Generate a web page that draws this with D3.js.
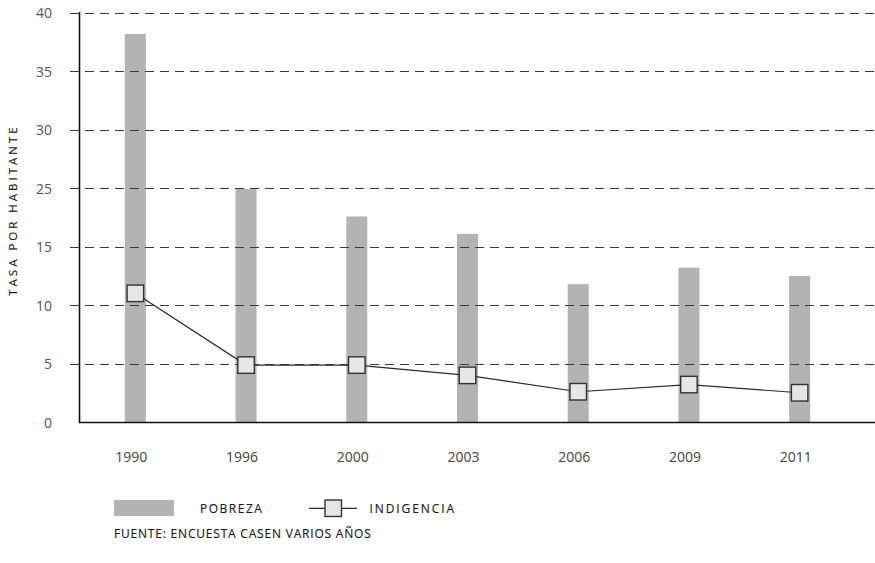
<!DOCTYPE html>
<html>
<head>
<meta charset="utf-8">
<script src="https://cdn.jsdelivr.net/npm/d3@7"></script>
<style>
  html, body { margin: 0; padding: 0; background: #fff; }
  svg { display: block; }
  text { font-family: "Open Sans", "DejaVu Sans", sans-serif; }
  .label { fill: #1a1a1a; stroke: #1a1a1a; stroke-width: 0.15px; }
</style>
</head>
<body>
<svg id="chart" width="875" height="563"></svg>
<script>
// Años de la encuesta CASEN
const years = ["1990", "1996", "2000", "2003", "2006", "2009", "2011"];
// Tasa de pobreza (barras)
const pobreza = [37.9, 22.8, 20.1, 18.4, 13.5, 15.1, 14.3];
// Tasa de indigencia (línea con marcadores)
const indigencia = [12.6, 5.6, 5.6, 4.6, 3.0, 3.7, 2.9];
// Etiquetas del eje vertical, repartidas en ocho líneas de guía
const yTickLabels = ["0", "5", "10", "15", "25", "30", "35", "40"];

const svg = d3.select("#chart");

const x = d3.scaleBand()
  .domain(years)
  .range([80, 855])
  .paddingInner(0.81)
  .paddingOuter(0.405);

const y = d3.scaleLinear()
  .domain([0, 40])
  .range([422.5, 12.5]);

const cx = d => x(d) + x.bandwidth() / 2;

// Barras de pobreza
svg.append("g")
  .selectAll("rect")
  .data(years)
  .join("rect")
  .attr("x", d => x(d))
  .attr("width", x.bandwidth())
  .attr("y", (d, i) => y(pobreza[i]))
  .attr("height", (d, i) => y(0) - y(pobreza[i]))
  .attr("fill", "#b3b3b3");

// Líneas de guía discontinuas y etiquetas del eje Y
const tickPos = yTickLabels.map((_, i) => i * 40 / (yTickLabels.length - 1));
const yAxis = d3.axisLeft(y)
  .tickValues(tickPos)
  .tickFormat((d, i) => yTickLabels[i])
  .tickSize(0)
  .tickPadding(0);

const gy = svg.append("g").attr("transform", "translate(52,0)").call(yAxis);
gy.select(".domain").remove();
gy.selectAll("text")
  .attr("x", 0)
  .attr("fill", "#555")
  .attr("font-size", "14px")
  .attr("dy", "0.36em");

svg.append("g")
  .selectAll("line")
  .data(tickPos.slice(1))
  .join("line")
  .attr("x1", 70)
  .attr("x2", 875)
  .attr("y1", d => Math.round(y(d)) + 0.5)
  .attr("y2", d => Math.round(y(d)) + 0.5)
  .attr("stroke", "#3a3a3a")
  .attr("stroke-width", 1)
  .attr("stroke-dasharray", "9,6");

// Ejes
svg.append("line")
  .attr("x1", 79.5).attr("x2", 79.5)
  .attr("y1", 12).attr("y2", y(0))
  .attr("stroke", "#111").attr("stroke-width", 1.6);
svg.append("line")
  .attr("x1", 78.7).attr("x2", 875)
  .attr("y1", y(0)).attr("y2", y(0))
  .attr("stroke", "#111").attr("stroke-width", 1.6);

// Etiquetas del eje X
const xAxis = d3.axisBottom(x).tickSize(0).tickPadding(0);
const gx = svg.append("g").attr("transform", "translate(-4,461.5)").call(xAxis);
gx.select(".domain").remove();
gx.selectAll("text")
  .attr("y", 0)
  .attr("dy", 0)
  .attr("fill", "#444")
  .attr("font-size", "14px");

// Línea de indigencia
const line = d3.line()
  .x((d, i) => cx(years[i]))
  .y(d => y(d));

svg.append("path")
  .datum(indigencia)
  .attr("d", line)
  .attr("fill", "none")
  .attr("stroke", "#2a2a2a")
  .attr("stroke-width", 1.2);

const m = 16.5;
svg.append("g")
  .selectAll("rect")
  .data(indigencia)
  .join("rect")
  .attr("x", (d, i) => cx(years[i]) - m / 2)
  .attr("y", d => y(d) - m / 2)
  .attr("width", m)
  .attr("height", m)
  .attr("fill", "#e6e6e7")
  .attr("stroke", "#333")
  .attr("stroke-width", 1.4);

// Título del eje Y
svg.append("text")
  .attr("class", "label")
  .attr("transform", "translate(16.5,210) rotate(-90)")
  .attr("text-anchor", "middle")
  .attr("font-size", "11.5px")
  .attr("letter-spacing", "3px")
  .text("TASA POR HABITANTE");

// Leyenda
const legend = svg.append("g");
legend.append("rect")
  .attr("x", 114).attr("y", 500)
  .attr("width", 60).attr("height", 16)
  .attr("fill", "#b3b3b3");
legend.append("text")
  .attr("class", "label")
  .attr("x", 200).attr("y", 512.7)
  .attr("font-size", "12px")
  .attr("letter-spacing", "1.5px")
  .text("POBREZA");
legend.append("line")
  .attr("x1", 309).attr("x2", 357)
  .attr("y1", 508.3).attr("y2", 508.3)
  .attr("stroke", "#2a2a2a").attr("stroke-width", 1.2);
legend.append("rect")
  .attr("x", 325).attr("y", 500)
  .attr("width", m).attr("height", m)
  .attr("fill", "#e6e6e7")
  .attr("stroke", "#333")
  .attr("stroke-width", 1.4);
legend.append("text")
  .attr("class", "label")
  .attr("x", 369.5).attr("y", 512.7)
  .attr("font-size", "12px")
  .attr("letter-spacing", "1.9px")
  .text("INDIGENCIA");

// Fuente
svg.append("text")
  .attr("class", "label")
  .attr("x", 114).attr("y", 537.5)
  .attr("font-size", "12px")
  .attr("letter-spacing", "0.8px")
  .text("FUENTE: ENCUESTA CASEN VARIOS AÑOS");
</script>
</body>
</html>
